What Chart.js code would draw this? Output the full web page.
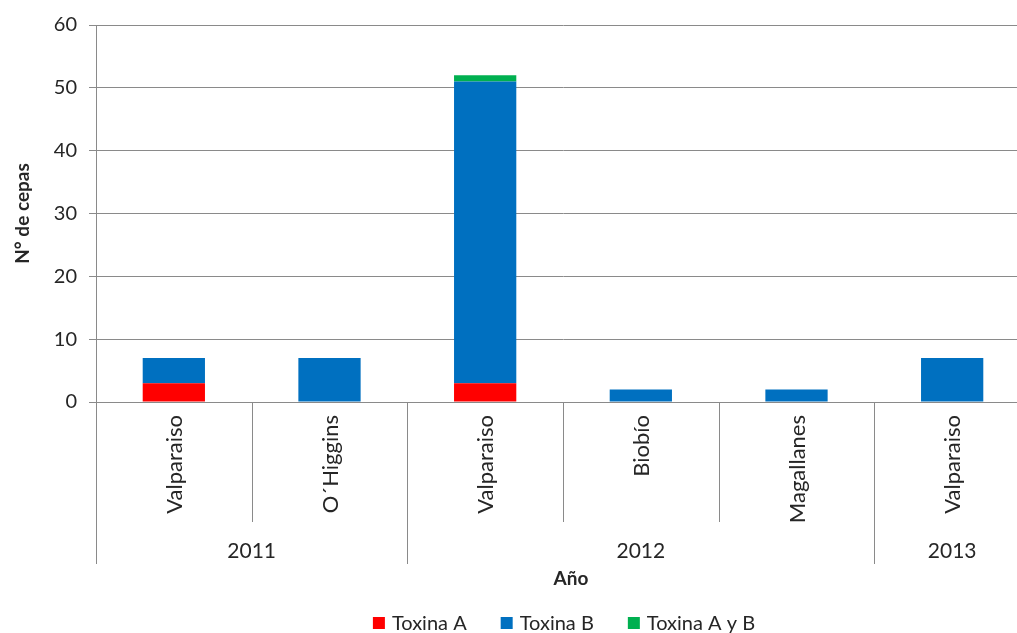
<!DOCTYPE html>
<html>
<head>
<meta charset="utf-8">
<script src="https://cdn.jsdelivr.net/npm/chart.js@4"></script>
<style>
  html, body { margin: 0; padding: 0; background: #fff; overflow: hidden; }
  #wrap { width: 1040px; height: 633px; }
</style>
</head>
<body>
<div id="wrap"><canvas id="c" width="1040" height="633"></canvas></div>
<script>
// Region (inner category) labels, one per bar
const regions = ['Valparaiso', 'O\u00B4Higgins', 'Valparaiso', 'Biob\u00EDo', 'Magallanes', 'Valparaiso'];
// Outer category: year groups and how many regions each spans
const years = ['2011', '2012', '2013'];
const yearSpans = [2, 3, 1];

// Number of strains per toxin type
const toxinaA = [3, 0, 3, 0, 0, 0];
const toxinaB = [4, 7, 48, 2, 2, 7];
const toxinaAyB = [0, 0, 1, 0, 0, 0];

const yTicks = [0, 10, 20, 30, 40, 50, 60];

const FONT = 'Lato';
const TEXT = '#262626';
const GRID = '#8a8a8a';

// Multi-level category axis, axis titles and legend drawn under the plot
const lowerAxis = {
  id: 'lowerAxis',
  afterDraw(chart) {
    const ctx = chart.ctx;
    const x = chart.scales.x;
    const area = chart.chartArea;
    const n = regions.length;
    const w = (area.right - area.left) / n;
    ctx.save();

    // separators: year boundaries reach lower than region boundaries
    const yearBounds = [0];
    yearSpans.reduce((acc, s) => { yearBounds.push(acc + s); return acc + s; }, 0);
    ctx.strokeStyle = GRID;
    ctx.lineWidth = 1;
    for (let i = 0; i <= n; i++) {
      const bx = Math.round(area.left + i * w) + 0.5;
      const isYear = yearBounds.includes(i);
      ctx.beginPath();
      ctx.moveTo(bx, area.bottom);
      ctx.lineTo(bx, isYear ? 564 : 522);
      ctx.stroke();
    }

    // rotated region names
    ctx.fillStyle = TEXT;
    ctx.font = '22px ' + FONT;
    ctx.textAlign = 'right';
    ctx.textBaseline = 'middle';
    regions.forEach((r, i) => {
      const cx = x.getPixelForValue(i);
      ctx.save();
      ctx.translate(cx + 1, 415);
      ctx.rotate(-Math.PI / 2);
      ctx.fillText(r, 0, 0);
      ctx.restore();
    });

    // year labels centred on their span
    ctx.font = '21px ' + FONT;
    ctx.textAlign = 'center';
    let start = 0;
    years.forEach((yv, j) => {
      const end = start + yearSpans[j];
      const cx = area.left + (start + end) / 2 * w;
      ctx.fillText(yv, cx, 551);
      start = end;
    });

    // x axis title
    ctx.font = 'bold 19px ' + FONT;
    ctx.fillText('A\u00F1o', 571, 579);

    // legend
    const items = chart.data.datasets.map(d => ({ label: d.label, color: d.backgroundColor }));
    ctx.font = '20px ' + FONT;
    const box = 12, gapText = 7, gapItem = 34;
    const widths = items.map(it => box + gapText + ctx.measureText(it.label).width);
    const total = widths.reduce((a, b) => a + b, 0) + gapItem * (items.length - 1);
    let lx = 564 - total / 2;
    const ly = 623;
    ctx.textAlign = 'left';
    items.forEach((it, k) => {
      ctx.fillStyle = it.color;
      ctx.fillRect(lx, ly - box / 2, box, box);
      ctx.fillStyle = TEXT;
      ctx.fillText(it.label, lx + box + gapText, ly + 1);
      lx += widths[k] + gapItem;
    });

    ctx.restore();
  }
};

new Chart(document.getElementById('c'), {
  type: 'bar',
  data: {
    labels: regions,
    datasets: [
      { label: 'Toxina A', data: toxinaA, backgroundColor: '#FF0000' },
      { label: 'Toxina B', data: toxinaB, backgroundColor: '#0070C0' },
      { label: 'Toxina A y B', data: toxinaAyB, backgroundColor: '#00B050' }
    ]
  },
  options: {
    responsive: false,
    animation: false,
    layout: { padding: { left: 0, top: 25, right: 10, bottom: 0 } },
    datasets: { bar: { categoryPercentage: 1.0, barPercentage: 0.4, borderWidth: 0 } },
    plugins: {
      legend: { display: false },
      tooltip: { enabled: false }
    },
    scales: {
      x: {
        stacked: true,
        grid: { display: false },
        border: { display: false },
        ticks: { display: false },
        afterFit(scale) { scale.height = 633 - 402; }
      },
      y: {
        stacked: true,
        min: 0,
        max: 60,
        afterBuildTicks(scale) { scale.ticks = yTicks.map(v => ({ value: v })); },
        grid: { color: GRID, lineWidth: 1, tickLength: 7 },
        border: { color: GRID, width: 1 },
        ticks: { color: TEXT, font: { family: FONT, size: 20 }, padding: 12 },
        title: {
          display: true,
          text: 'N\u00B0 de cepas',
          color: TEXT,
          font: { family: FONT, size: 19, weight: 'bold' },
          padding: { top: 11, bottom: 0 }
        },
        afterFit(scale) { scale.width = 96; }
      }
    }
  },
  plugins: [lowerAxis]
});
</script>
</body>
</html>
